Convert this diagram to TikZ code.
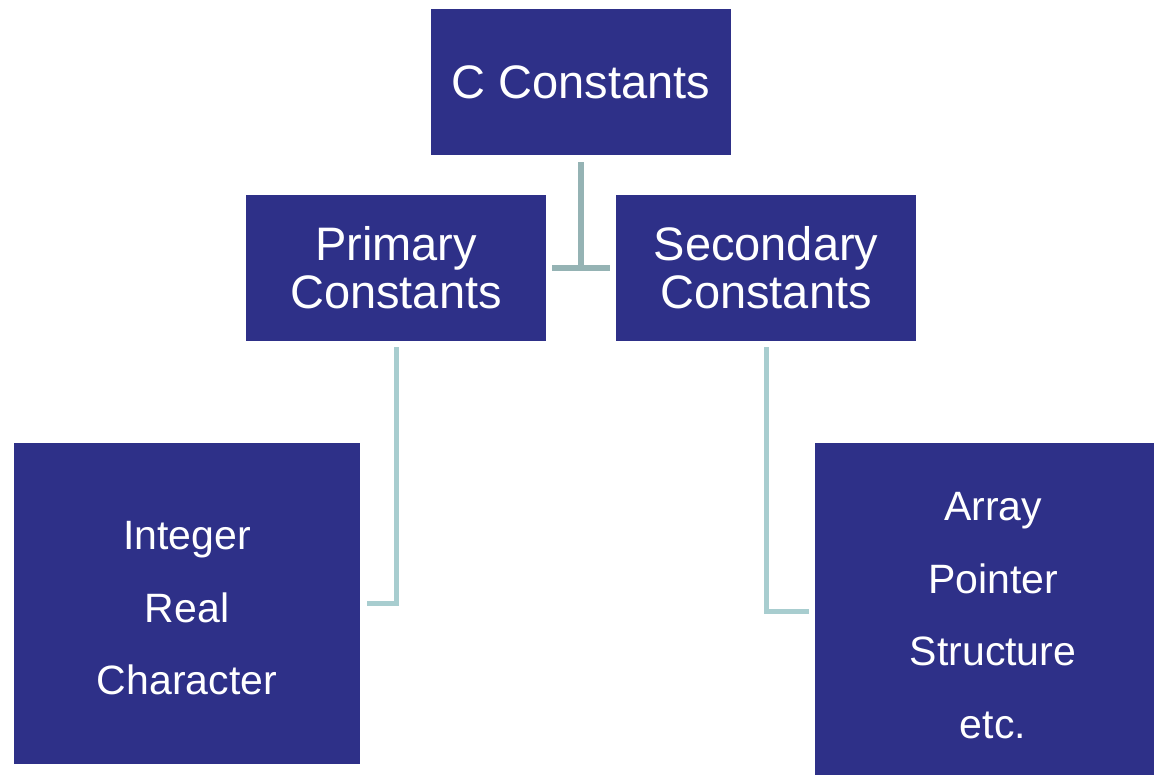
\documentclass[tikz,border=0pt]{standalone}
\usepackage{fontspec}
\setmainfont{Liberation Sans}
\usetikzlibrary{positioning}
\definecolor{boxColor}{RGB}{46,48,136}
\definecolor{stemColor}{RGB}{149,179,180}
\definecolor{branchColor}{RGB}{168,205,207}
\tikzstyle{chart} = [x = 1pt, y = -1pt]
\tikzstyle{boxStyle} = [fill=boxColor, text=white, inner sep=0pt, align=center, font=\fontsize{47}{48}\selectfont]
\tikzstyle{mainBox} = [boxStyle, minimum width=300pt, minimum height=146pt]
\tikzstyle{leafBox} = [boxStyle, font=\fontsize{41}{72.5}\selectfont]
\tikzstyle{stemLine} = [color=stemColor, line width=6pt]
\tikzstyle{branchLine} = [color=branchColor, line width=5pt]

\begin{document}
\begin{tikzpicture}[chart]
  \useasboundingbox (0,0) rectangle (1154,774);
  \clip (0,0) rectangle (1154,774);

  % upper levels
  \node [mainBox] (cConst) at (581,82) {C Constants};
  \node [mainBox] (primConst) at (396,268) {Primary\\Constants};
  \node [mainBox] (secConst) at (766,268) {Secondary\\Constants};

  % leaves
  \node [leafBox, minimum width=346pt, minimum height=321pt, text height=183pt] (basicTypes) at (187,603.5) {Integer\\Real\\Character};
  \node [leafBox, minimum width=356pt, minimum height=336pt, text height=255pt] (derivedTypes) at (993,611) {Array\\Pointer\\Structure\\etc.};

  % connectors
  \draw [stemLine] ([yshift=-7pt]cConst.south) -- (cConst.south |- primConst.east);
  \draw [stemLine] ([xshift=6pt]primConst.east) -- ([xshift=-6pt]secConst.west);
  \draw [branchLine] ([yshift=-6pt]primConst.south) |- ([xshift=7pt]basicTypes.east);
  \draw [branchLine] ([yshift=-6pt]secConst.south) |- ([xshift=-6pt]derivedTypes.west);
\end{tikzpicture}
\end{document}
